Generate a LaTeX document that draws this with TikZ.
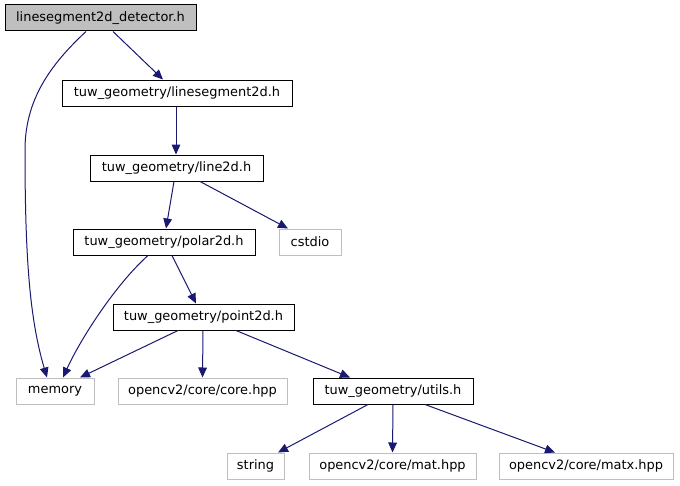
\documentclass[tikz,border=0pt]{standalone}
\usepackage{fontspec}
\setmainfont{DejaVu Sans}
\usetikzlibrary{arrows.meta,calc}
\definecolor{edgecol}{HTML}{191970}
\definecolor{greyline}{HTML}{BFBFBF}
\begin{document}
\begin{tikzpicture}[x=0.75pt,y=-0.75pt,
  box/.style={draw=black,line width=0.75pt,inner sep=0pt,minimum height=19.5pt,font=\fontsize{9.7}{11}\selectfont,fill=white},
  extbox/.style={box,draw=greyline},
  rootbox/.style={box,fill=greyline},
  edge/.style={draw=edgecol,line width=0.75pt,-{Triangle[length=7.5pt,width=6.5pt]}}]
\useasboundingbox (0,0) rectangle (680,485);
\node[rootbox,minimum width=143.25pt] (det) at (100.5,18) {linesegment2d\_detector.h};
\node[box,minimum width=172.5pt] (ls) at (177,93) {tuw\_geometry/linesegment2d.h};
\node[box,minimum width=129.75pt] (l2) at (176.5,168) {tuw\_geometry/line2d.h};
\node[box,minimum width=136.5pt] (p2) at (164,242) {tuw\_geometry/polar2d.h};
\node[extbox,minimum width=46.5pt] (cs) at (310,242) {cstdio};
\node[box,minimum width=135.75pt] (pt) at (203.5,317) {tuw\_geometry/point2d.h};
\node[extbox,minimum width=58.5pt] (mem) at (55,391) {memory};
\node[extbox,minimum width=126.75pt] (core) at (202.5,391) {opencv2/core/core.hpp};
\node[box,minimum width=120pt] (ut) at (393,391) {tuw\_geometry/utils.h};
\node[extbox,minimum width=42.75pt] (str) at (255.5,466) {string};
\node[extbox,minimum width=125.25pt] (mat) at (392.5,466) {opencv2/core/mat.hpp};
\node[extbox,minimum width=130.5pt] (matx) at (586,466) {opencv2/core/matx.hpp};

\draw[edge] ($(det.south)+(12.5,0)$) -- ($(ls.north)+(-14,0)$);
\draw[edge] ($(det.south)+(-14.5,0)$) .. controls (50,65) and (25,100) .. (25,150)
  .. controls (25,260) and (30,320) .. ($(mem.north)+(-8,0)$);
\draw[edge] ($(ls.south)+(-1,0)$) -- ($(l2.north)+(-0.5,0)$);
\draw[edge] ($(l2.south)+(-2.5,0)$) -- ($(p2.north)+(2,0)$);
\draw[edge] ($(l2.south)+(23.5,0)$) -- ($(cs.north)+(-22,0)$);
\draw[edge] ($(p2.south)+(-16,0)$) .. controls (115,285) and (80,340) .. ($(mem.north)+(8,0)$);
\draw[edge] ($(p2.south)+(8,0)$) -- ($(pt.north)+(-7.5,0)$);
\draw[edge] ($(pt.south)+(-25.5,0)$) -- ($(mem.north)+(25,0)$);
\draw[edge] ($(pt.south)+(-0.5,0)$) -- (core.north);
\draw[edge] ($(pt.south)+(32.5,0)$) -- ($(ut.north)+(-43,0)$);
\draw[edge] ($(ut.south)+(-25,0)$) -- ($(str.north)+(22.5,0)$);
\draw[edge] (ut.south) -- (mat.north);
\draw[edge] ($(ut.south)+(32,0)$) -- ($(matx.north)+(-31,0)$);
\end{tikzpicture}
\end{document}
